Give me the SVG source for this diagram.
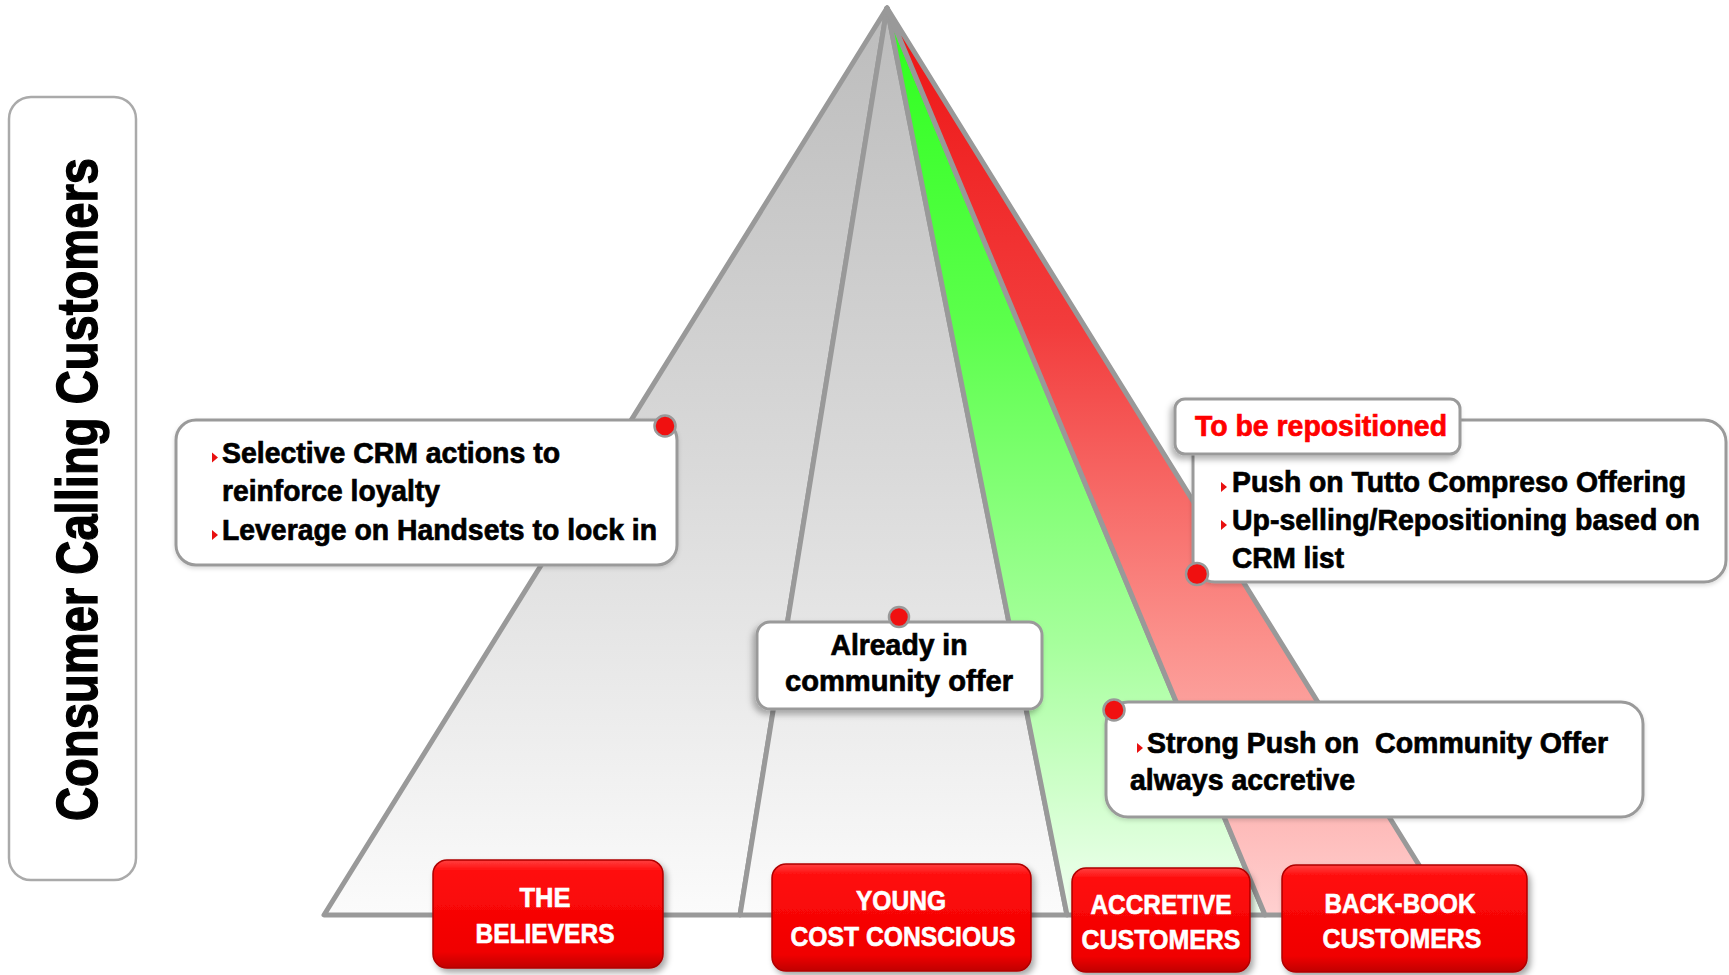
<svg xmlns="http://www.w3.org/2000/svg" width="1729" height="975" viewBox="0 0 1729 975">
<defs>
<linearGradient id="gGray" gradientUnits="userSpaceOnUse" x1="0" y1="8" x2="0" y2="915">
<stop offset="0" stop-color="#bcbcbc"/>
<stop offset="0.5" stop-color="#d9d9d9"/>
<stop offset="1" stop-color="#fbfbfb"/>
</linearGradient>
<linearGradient id="gGreen" gradientUnits="userSpaceOnUse" x1="0" y1="8" x2="0" y2="915">
<stop offset="0" stop-color="#2cff1c"/>
<stop offset="0.35" stop-color="#5cff4c"/>
<stop offset="0.7" stop-color="#a6ff9c"/>
<stop offset="1" stop-color="#f2fff2"/>
</linearGradient>
<linearGradient id="gRed" gradientUnits="userSpaceOnUse" x1="0" y1="8" x2="0" y2="915">
<stop offset="0" stop-color="#ee1414"/>
<stop offset="0.35" stop-color="#f23c3c"/>
<stop offset="0.7" stop-color="#fb918c"/>
<stop offset="1" stop-color="#ffd0d0"/>
</linearGradient>
<linearGradient id="gBtn" x1="0" y1="0" x2="0" y2="1">
<stop offset="0" stop-color="#ff4040"/>
<stop offset="0.1" stop-color="#ff0c0c"/>
<stop offset="0.85" stop-color="#f00000"/>
<stop offset="1" stop-color="#c00000"/>
</linearGradient>
<filter id="shBtn" x="-10%" y="-10%" width="125%" height="130%">
<feDropShadow dx="3" dy="4" stdDeviation="3" flood-color="#000" flood-opacity="0.35"/>
</filter>
<filter id="shBox" x="-10%" y="-10%" width="125%" height="135%">
<feDropShadow dx="-3" dy="4" stdDeviation="3" flood-color="#000" flood-opacity="0.3"/>
</filter>
<filter id="shLight" x="-10%" y="-10%" width="125%" height="135%">
<feDropShadow dx="0" dy="2" stdDeviation="2" flood-color="#000" flood-opacity="0.15"/>
</filter>
<style>
.sec{stroke:#999;stroke-width:5;stroke-linejoin:round}
.call{fill:#fff;stroke:#9a9a9a;stroke-width:3}
.t{font-family:"Liberation Sans",Arial,sans-serif;font-weight:bold;font-size:29px;fill:#000;stroke:#000;stroke-width:0.7}
.red{fill:#ff0000;stroke:#ff0000}
.dot{fill:#f01010;stroke:#999;stroke-width:2.5}
.bul{fill:#e81010}
.btn{fill:url(#gBtn);stroke:#b00000;stroke-width:1.5;filter:url(#shBtn)}
.bt{font-family:"Liberation Sans",Arial,sans-serif;font-weight:bold;font-size:27px;fill:#fff;stroke:#fff;stroke-width:0.6;text-anchor:middle}
</style>
</defs>
<rect width="1729" height="975" fill="#fff"/>

<g id="pyramid">
<polygon id="sec-believers" class="sec" fill="url(#gGray)" points="887,8 324,915 740,915"/>
<polygon id="sec-young" class="sec" fill="url(#gGray)" points="887,8 740,915 1067,915"/>
<polygon id="sec-accretive" class="sec" fill="url(#gGreen)" points="887,8 1067,915 1265,915"/>
<polygon id="sec-backbook" class="sec" fill="url(#gRed)" points="887,8 1265,915 1450,915"/>
</g>

<g id="connectors"/>

<g id="label-consumer">
<rect x="9" y="97" width="127" height="783" rx="22" fill="#fff" stroke="#aaa" stroke-width="2.5"/>
<text transform="translate(97,489.5) rotate(-90)" text-anchor="middle" textLength="663" lengthAdjust="spacingAndGlyphs" font-family="Liberation Sans, Arial, sans-serif" font-weight="bold" font-size="58" fill="#000" stroke="#000" stroke-width="1.4">Consumer Calling Customers</text>
</g>

<g id="note-believers">
<rect class="call" x="176" y="420" width="501" height="145" rx="20" filter="url(#shLight)"/>
<circle class="dot" cx="665" cy="426" r="10.5"/>
<polygon class="bul" points="212,452.5 218,457.5 212,462.5"/>
<text class="t" x="222" y="463" textLength="338" lengthAdjust="spacingAndGlyphs">Selective CRM actions to</text>
<text class="t" x="222" y="501" textLength="218" lengthAdjust="spacingAndGlyphs">reinforce loyalty</text>
<polygon class="bul" points="212,530 218,535 212,540"/>
<text class="t" x="222" y="540" textLength="435" lengthAdjust="spacingAndGlyphs">Leverage on Handsets to lock in</text>
</g>

<g id="note-young">
<rect class="call" x="757" y="622" width="285" height="87" rx="13" filter="url(#shBox)"/>
<circle class="dot" cx="899" cy="617" r="10"/>
<text class="t" x="899" y="655" text-anchor="middle" textLength="137" lengthAdjust="spacingAndGlyphs">Already in</text>
<text class="t" x="899" y="691" text-anchor="middle" textLength="228" lengthAdjust="spacingAndGlyphs">community offer</text>
</g>

<g id="note-backbook">
<rect class="call" x="1193" y="420" width="533" height="162" rx="22" filter="url(#shLight)"/>
<circle class="dot" cx="1197" cy="574" r="11"/>
<polygon class="bul" points="1221,482 1227,487 1221,492"/>
<text class="t" x="1232" y="492" textLength="454" lengthAdjust="spacingAndGlyphs">Push on Tutto Compreso Offering</text>
<polygon class="bul" points="1221,520 1227,525 1221,530"/>
<text class="t" x="1232" y="530" textLength="468" lengthAdjust="spacingAndGlyphs">Up-selling/Repositioning based on</text>
<text class="t" x="1232" y="568" textLength="112" lengthAdjust="spacingAndGlyphs">CRM list</text>
</g>

<g id="tab-repositioned">
<rect class="call" x="1175" y="399" width="285" height="55" rx="10" filter="url(#shBox)"/>
<text class="t red" x="1195" y="436" textLength="252" lengthAdjust="spacingAndGlyphs">To be repositioned</text>
</g>

<g id="note-accretive">
<rect class="call" x="1106" y="702" width="537" height="115" rx="22" filter="url(#shLight)"/>
<circle class="dot" cx="1114" cy="710" r="10.5"/>
<polygon class="bul" points="1137,743 1143,748 1137,753"/>
<text class="t" x="1147" y="753" xml:space="preserve" textLength="461" lengthAdjust="spacingAndGlyphs">Strong Push on  Community Offer</text>
<text class="t" x="1130" y="790" textLength="225" lengthAdjust="spacingAndGlyphs">always accretive</text>
</g>

<g id="btn-believers">
<rect class="btn" x="433" y="860" width="230" height="108" rx="14"/>
<text class="bt" x="545" y="907" textLength="51" lengthAdjust="spacingAndGlyphs">THE</text>
<text class="bt" x="545" y="943" textLength="139" lengthAdjust="spacingAndGlyphs">BELIEVERS</text>
</g>

<g id="btn-young">
<rect class="btn" x="772" y="864" width="259" height="107" rx="14"/>
<text class="bt" x="901" y="910" textLength="90" lengthAdjust="spacingAndGlyphs">YOUNG</text>
<text class="bt" x="903" y="946" textLength="225" lengthAdjust="spacingAndGlyphs">COST CONSCIOUS</text>
</g>

<g id="btn-accretive">
<rect class="btn" x="1072" y="868" width="178" height="104" rx="14"/>
<text class="bt" x="1161" y="914" textLength="141" lengthAdjust="spacingAndGlyphs">ACCRETIVE</text>
<text class="bt" x="1161" y="949" textLength="159" lengthAdjust="spacingAndGlyphs">CUSTOMERS</text>
</g>

<g id="btn-backbook">
<rect class="btn" x="1282" y="865" width="245" height="107" rx="14"/>
<text class="bt" x="1400" y="913" textLength="151" lengthAdjust="spacingAndGlyphs">BACK-BOOK</text>
<text class="bt" x="1402" y="948" textLength="159" lengthAdjust="spacingAndGlyphs">CUSTOMERS</text>
</g>
</svg>
